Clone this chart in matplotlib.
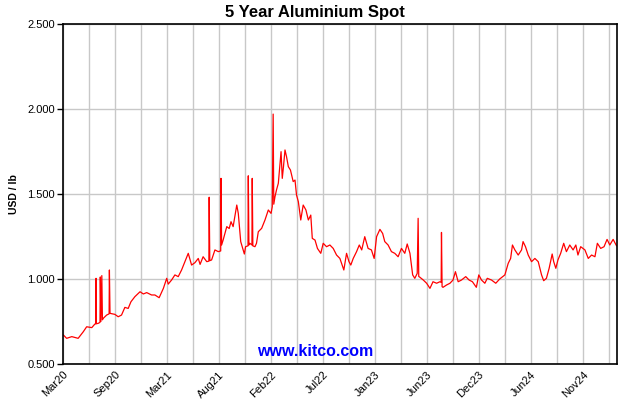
import matplotlib
matplotlib.use("Agg")
import matplotlib.pyplot as plt

plt.rcParams['font.family'] = ['Liberation Sans', 'DejaVu Sans']

# days since start of chart (early Mar 2020) and price in USD/lb
days = [1, 12, 29, 50, 67, 78, 95, 105, 108, 109, 110, 116, 122, 123, 125, 128, 130,
        133, 144, 152, 153, 155, 171, 182, 193, 204, 215, 224, 237, 254, 265, 276,
        292, 303, 317, 331, 342, 347, 358, 369, 380, 391, 402, 413, 424, 435, 446,
        452, 462, 474, 481, 482, 484, 490, 501, 512, 520, 521, 523, 528, 540, 548,
        554, 561, 573, 578, 586, 598, 602, 610, 611, 613, 616, 623, 624, 626, 633,
        638, 644, 655, 666, 677, 686, 690, 693, 695, 699, 704, 710, 719, 723, 727,
        732, 737, 743, 750, 759, 765, 770, 776, 784, 792, 801, 809, 817, 822, 831,
        839, 850, 858, 869, 880, 891, 902, 913, 926, 935, 943, 949, 957, 968, 977,
        985, 995, 1006, 1017, 1026, 1034, 1045, 1054, 1061, 1072, 1083, 1094, 1105,
        1116, 1127, 1135, 1144, 1153, 1160, 1168, 1171, 1173, 1177, 1188, 1199,
        1210, 1220, 1232, 1243, 1247, 1248, 1250, 1253, 1265, 1276, 1286, 1294,
        1303, 1314, 1328, 1339, 1350, 1363, 1371, 1380, 1391, 1399, 1413, 1427,
        1440, 1457, 1468, 1476, 1482, 1490, 1501, 1512, 1517, 1525, 1534, 1545,
        1556, 1567, 1578, 1585, 1594, 1603, 1613, 1618, 1625, 1632, 1641, 1651,
        1660, 1671, 1682, 1691, 1698, 1707, 1721, 1732, 1743, 1754, 1762, 1773,
        1784, 1794, 1803, 1814, 1825]
price = [0.671, 0.651, 0.661, 0.651, 0.690, 0.719, 0.714, 0.735, 0.736, 1.004, 0.737, 0.739, 0.745, 1.012, 0.750, 1.020, 0.760,
         0.769, 0.788, 0.795, 1.053, 0.798, 0.792, 0.778, 0.788, 0.833, 0.827, 0.866, 0.896, 0.925, 0.912, 0.920,
         0.906, 0.906, 0.890, 0.945, 1.004, 0.970, 0.994, 1.024, 1.014, 1.053, 1.102, 1.151, 1.082, 1.096, 1.121,
         1.086, 1.131, 1.102, 1.105, 1.481, 1.108, 1.112, 1.171, 1.161, 1.165, 1.592, 1.200, 1.229, 1.308, 1.297,
         1.337, 1.308, 1.435, 1.386, 1.220, 1.147, 1.190, 1.195, 1.607, 1.200, 1.210, 1.200, 1.592, 1.195, 1.190,
         1.210, 1.278, 1.298, 1.347, 1.406, 1.386, 1.425, 1.970, 1.440, 1.484, 1.524, 1.563, 1.749, 1.592, 1.661,
         1.759, 1.720, 1.661, 1.641, 1.573, 1.582, 1.494, 1.455, 1.347, 1.435, 1.406, 1.347, 1.376, 1.239, 1.229,
         1.180, 1.151, 1.210, 1.190, 1.200, 1.180, 1.141, 1.121, 1.053, 1.151, 1.102, 1.082, 1.121, 1.161, 1.200,
         1.171, 1.249, 1.180, 1.171, 1.121, 1.249, 1.292, 1.268, 1.220, 1.200, 1.161, 1.151, 1.131,
         1.180, 1.151, 1.206, 1.151, 1.024, 1.004, 1.033, 1.357, 1.015, 1.010, 0.994, 0.975,
         0.945, 0.984, 0.975, 0.984, 0.980, 1.274, 0.955, 0.951, 0.965, 0.975, 0.994, 1.043,
         0.984, 0.994, 1.014, 0.994, 0.984, 0.951, 1.024, 0.994, 0.975, 1.004, 0.994, 0.975,
         1.000, 1.024, 1.092, 1.121, 1.200, 1.171, 1.141, 1.171, 1.220, 1.190, 1.141, 1.102,
         1.121, 1.102, 1.024, 0.990, 1.004, 1.063, 1.147, 1.102, 1.063, 1.112, 1.151, 1.210,
         1.161, 1.200, 1.171, 1.200, 1.141, 1.190, 1.171, 1.121, 1.141, 1.131, 1.210, 1.180,
         1.190, 1.233, 1.200, 1.233, 1.196]

tick_labels = ['Mar20', 'Sep20', 'Mar21', 'Aug21', 'Feb22', 'Jul22', 'Jan23',
               'Jun23', 'Dec23', 'Jun24', 'Nov24']
y_ticks = [0.5, 1.0, 1.5, 2.0, 2.5]

span = 1826
step = 26 / 554 * span  # grid spacing in days

fig = plt.figure(figsize=(6.3, 4.0), dpi=100)
ax = fig.add_axes([0.1, 0.09, 0.879, 0.85])

ax.plot(days, price, color='#ff0000', linewidth=0.9)

ax.set_xlim(0, span)
ax.set_ylim(0.5, 2.5)

major = [2 * step * i for i in range(len(tick_labels))]
minor = [step * (2 * i + 1) for i in range(len(tick_labels))]
ax.set_xticks(major)
ax.set_xticklabels(tick_labels, rotation=45, ha='right', va='top',
                   rotation_mode='anchor', fontsize=8)
ax.set_xticks(minor, minor=True)
ax.tick_params(axis='x', which='both', length=0, pad=4)

ax.set_yticks(y_ticks)
ax.set_yticklabels(['%.3f' % v for v in y_ticks], fontsize=8)
ax.tick_params(axis='y', length=4, width=1, direction='out', pad=2)

ax.grid(True, which='both', color='#c8c8c8', linewidth=1)
ax.set_axisbelow(True)
for s in ax.spines.values():
    s.set_linewidth(1.2)

ax.set_ylabel('USD / lb', fontsize=7.5, fontweight='bold', labelpad=6)
fig.text(0.5, 0.968, '5 Year Aluminium Spot', ha='center', va='center',
         fontsize=12, fontweight='bold')
fig.text(0.5, 0.12, 'www.kitco.com', ha='center', va='center',
         fontsize=11.5, fontweight='bold', color='#0000ff')

fig.savefig('out.png', dpi=100)
